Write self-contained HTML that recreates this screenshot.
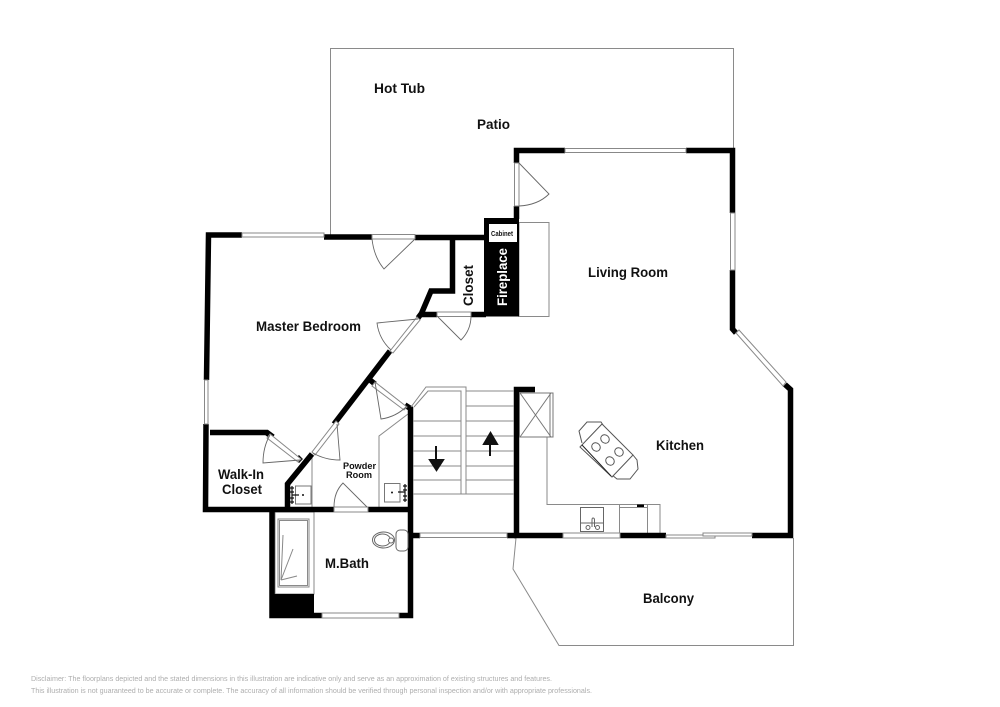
<!DOCTYPE html>
<html>
<head>
<meta charset="utf-8">
<style>
html,body{margin:0;padding:0;background:#fff;width:1000px;height:707px;overflow:hidden}
svg{display:block}
text{font-family:"Liberation Sans",sans-serif;font-weight:bold;fill:#111}
.w{fill:none;stroke:#000;stroke-width:5.5;stroke-linejoin:miter;stroke-linecap:butt}
.t{fill:none;stroke:#8a8a8a;stroke-width:1}
.d{fill:none;stroke:#666;stroke-width:.9}
.win{fill:#fff;stroke:#888;stroke-width:1}
.dis{font-weight:normal;fill:#aeaeae;font-size:7px}
</style>
</head>
<body>
<svg width="1000" height="707" viewBox="0 0 1000 707" xmlns="http://www.w3.org/2000/svg">
<!-- patio and balcony -->
<path class="t" d="M330.5 235V48.5H733.5V149"/>
<path class="t" d="M516 538L513 569L559 645.5H793.5V538"/>
<!-- fireplace surround -->
<rect class="t" x="519" y="222.5" width="30" height="94"/>
<!-- fireplace -->
<rect x="484" y="218" width="35" height="98.5" fill="#000"/>
<rect x="489" y="224" width="28" height="18" fill="#fff"/>
<!-- thin interior lines -->
<path class="t" d="M312 454V507M379 507V436L408 414"/>
<path class="t" d="M547 437V504.5H660V533M619.5 505V533M647.5 505V533M620 507.5H647"/>
<rect x="637" y="504.5" width="7" height="2.5" fill="#000"/>
<!-- bath interior -->
<rect class="t" x="275" y="512" width="39" height="82"/>
<rect class="t" x="278" y="519" width="31" height="68"/>
<rect class="t" x="279.500" y="520.500" width="28" height="65"/>
<path d="M281 580L283 535M281 580L293 549M281 580L297 576" fill="none" stroke="#888" stroke-width="1"/>
<!-- walls -->
<path class="w" d="M242 235H208.500L206.500 380M206 424L205.500 509.500H334M368 509.500H410.500M210 432.500H267L273 437"/>
<path class="w" d="M324 237H372M415 237.500H487"/>
<path class="w" d="M452.500 238V291H431L421 314.500H437M471 314.500H486"/>
<path class="w" d="M287.500 507V484L312 454"/>
<path class="w" d="M334 424L390 351"/>
<path class="w" d="M418 318L421 314"/>
<path class="w" d="M565 150.500H516.500V163M516.500 206V219"/>
<path class="w" d="M686 150.500H732.500V213M732.500 270V329L736 333"/>
<path class="w" d="M785 384.500L790.500 389.500V535.500H752M666 535.500H620M563 535.500H514"/>
<path class="w" d="M516.500 533V389.500H535"/>
<path class="w" d="M272 512V615.500H322M399 615.500H410.500V408.500L405 405"/>
<path class="w" d="M370 380L375 384"/>
<path class="w" d="M410 535.500H420M507 535.500H516"/>
<path class="w" d="M267 433L272 437M297 457L301 461"/>
<rect x="269.500" y="594" width="44.500" height="24" fill="#000"/>
<!-- windows -->
<rect class="win" x="242" y="233" width="82" height="4"/>
<rect class="win" x="372" y="234.500" width="43" height="4.500"/>
<rect class="win" x="204.500" y="380" width="3.500" height="44"/>
<rect class="win" x="437" y="312" width="34" height="4.500"/>
<rect class="win" x="514.500" y="163" width="4.500" height="43"/>
<rect class="win" x="565" y="148.500" width="121" height="4"/>
<rect class="win" x="730.500" y="213" width="4.500" height="57"/>
<rect class="win" x="420" y="533" width="87" height="4.500"/>
<rect class="win" x="563" y="533" width="57" height="5"/>
<rect class="win" x="666" y="535" width="49" height="3"/>
<rect class="win" x="703" y="533" width="49" height="3"/>
<rect class="win" x="322" y="613" width="77" height="5"/>
<rect class="win" x="334" y="507" width="34" height="5"/>
<path class="win" d="M736 333L739 330L786 382L783 386Z"/>
<path class="win" d="M390 351L393 353L420 320L417 317Z"/>
<path class="win" d="M312 452L315 455L339 424L336 421Z"/>
<path class="win" d="M375 382L372 386L404 410L407 407Z"/>
<path class="win" d="M270 434L267 438L298 462L301 459Z"/>
<!-- doors -->
<path class="d" d="M415 239L384 269Q374 257 372 239"/>
<path class="d" d="M437 316L461 340Q471 330 471 316"/>
<path class="d" d="M418 319L377 323Q379 339 391 350"/>
<path class="d" d="M519 163L549 194Q538 205 519 206"/>
<path class="d" d="M375 382L381 419Q396 417 407 406"/>
<path class="d" d="M300 460L263 463Q263 447 270 435"/>
<path class="d" d="M337 424L340 460Q325 460 313 453"/>
<path class="d" d="M367 507L343 483Q334 492 334 507"/>
<!-- stairs -->
<g fill="none" stroke="#888" stroke-width="1">
<path d="M413 421H461M413 436H461M413 451H461M413 466H461M413 480H461M413 494H461"/>
<path d="M466 391H514M466 406H514M466 421H514M466 436H514M466 451H514M466 466H514M466 480H514M466 494H514"/>
<path d="M411 407L426 387H466V494H461V391H428L414 407"/>
</g>
<path d="M436 446V460M430 460H443L436.500 470Z" fill="#111" stroke="#111" stroke-width="2"/>
<path d="M490 456V442M484 444H497L490.500 433Z" fill="#111" stroke="#111" stroke-width="2"/>
<!-- closet/cabinet box -->
<g fill="none" stroke="#777" stroke-width="1">
<rect x="519.500" y="393" width="33.500" height="44"/>
<path d="M520 393L551 437M551 393L520 437M550 393V437"/>
</g>
<!-- table -->
<g fill="#fff" stroke="#555" stroke-width="1">
<path d="M582 443L579 431L587 422L601 422L603 425"/>
<path d="M633 455L637 460L638 469L630 479L617 479L612 475"/>
<path d="M580 447L602 424L633 455L612 477Z"/>
<path d="M582 445L611 476" stroke="#222"/>
<ellipse cx="605" cy="439" rx="4.500" ry="4" transform="rotate(45 605 439)"/>
<ellipse cx="596" cy="447" rx="4.500" ry="4" transform="rotate(45 596 447)"/>
<ellipse cx="619" cy="452" rx="4.500" ry="4" transform="rotate(45 619 452)"/>
<ellipse cx="610" cy="461" rx="4.500" ry="4" transform="rotate(45 610 461)"/>
</g>
<!-- kitchen sink -->
<g fill="none" stroke="#666" stroke-width="1">
<rect x="580.500" y="507.500" width="23" height="24"/>
<path d="M581 523H603"/>
<path d="M592 527V520Q592 518 593 518H593Q594.500 518 594.500 520V527"/>
<circle cx="588" cy="527.500" r="2"/>
<circle cx="597.500" cy="527.500" r="2"/>
</g>
<!-- bath sinks -->
<g fill="none" stroke="#777" stroke-width="1">
<rect x="295.500" y="486" width="15.500" height="18"/>
<rect x="384.500" y="483.500" width="15.500" height="18.500"/>
</g>
<path d="M292 486V504M292 495H299M405 484V502M398 492H405" stroke="#111" stroke-width="1.200" fill="none"/>
<path d="M290 488H294M290 492H294M290 498H294M290 502H294M403 486H407M403 490H407M403 496H407M403 500H407" stroke="#111" stroke-width="1.200" fill="none"/>
<circle cx="303" cy="495" r="1" fill="#111"/>
<circle cx="392" cy="492.500" r="1" fill="#111"/>
<!-- toilet -->
<g fill="#fff" stroke="#666" stroke-width="1">
<rect x="396" y="530" width="12" height="21" rx="4"/>
<ellipse cx="383.500" cy="540" rx="11" ry="8"/>
<ellipse cx="382.500" cy="540" rx="8" ry="6"/>
<circle cx="391" cy="540.500" r="2.500"/>
</g>
<!-- labels -->
<text x="374" y="93" font-size="14" textLength="51" lengthAdjust="spacingAndGlyphs">Hot Tub</text>
<text x="477" y="129" font-size="13.500" textLength="33" lengthAdjust="spacingAndGlyphs">Patio</text>
<text x="588" y="277" font-size="13.500" textLength="80" lengthAdjust="spacingAndGlyphs">Living Room</text>
<text x="256" y="331" font-size="13.500" textLength="105" lengthAdjust="spacingAndGlyphs">Master Bedroom</text>
<text x="656" y="450" font-size="13.500" textLength="48" lengthAdjust="spacingAndGlyphs">Kitchen</text>
<text x="643" y="603" font-size="13.500" textLength="51" lengthAdjust="spacingAndGlyphs">Balcony</text>
<text x="325" y="568" font-size="13.500" textLength="44" lengthAdjust="spacingAndGlyphs">M.Bath</text>
<text x="218" y="479" font-size="13.500" textLength="46" lengthAdjust="spacingAndGlyphs">Walk-In</text>
<text x="222" y="494" font-size="13.500" textLength="40" lengthAdjust="spacingAndGlyphs">Closet</text>
<text x="343" y="469" font-size="9.500" textLength="33" lengthAdjust="spacingAndGlyphs">Powder</text>
<text x="346" y="478" font-size="9.500" textLength="26" lengthAdjust="spacingAndGlyphs">Room</text>
<text x="491" y="236" font-size="7" textLength="22" lengthAdjust="spacingAndGlyphs">Cabinet</text>
<text transform="translate(473,306) rotate(-90)" font-size="13.500" textLength="41" lengthAdjust="spacingAndGlyphs">Closet</text>
<text transform="translate(507,306) rotate(-90)" font-size="13.500" textLength="58" lengthAdjust="spacingAndGlyphs" style="fill:#fff">Fireplace</text>
<text class="dis" x="31" y="681" textLength="521" lengthAdjust="spacingAndGlyphs">Disclaimer: The floorplans depicted and the stated dimensions in this illustration are indicative only and serve as an approximation of existing structures and features.</text>
<text class="dis" x="31" y="693" textLength="561" lengthAdjust="spacingAndGlyphs">This illustration is not guaranteed to be accurate or complete. The accuracy of all information should be verified through personal inspection and/or with appropriate professionals.</text>
</svg>
</body>
</html>
